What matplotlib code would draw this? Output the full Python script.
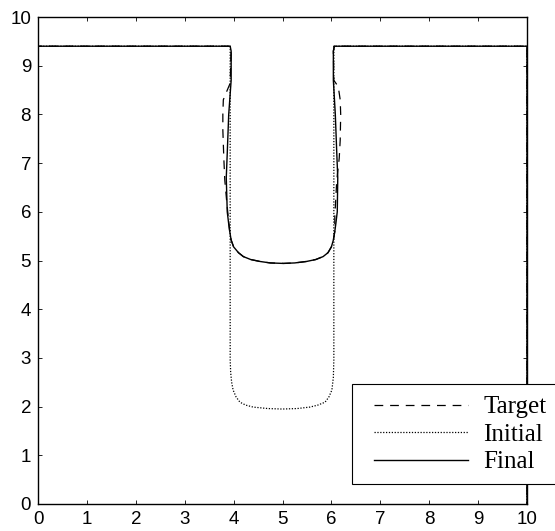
import matplotlib
matplotlib.use('Agg')
import matplotlib.pyplot as plt
from matplotlib.patches import Rectangle

# Curve data
bottom_x = [3.92, 3.95, 4.00, 4.10, 4.20, 4.35, 4.54, 4.75, 5.02, 5.25, 5.49, 5.68, 5.83, 5.93, 6.00, 6.04, 6.07]
bottom_y = [5.60, 5.42, 5.28, 5.16, 5.08, 5.02, 4.98, 4.95, 4.94, 4.95, 4.98, 5.02, 5.08, 5.16, 5.28, 5.42, 5.60]

target_x = ([0, 0, 3.93, 3.95, 3.93, 3.85, 3.79, 3.78, 3.78, 3.80, 3.82, 3.86, 3.89]
            + bottom_x
            + [6.07, 6.11, 6.16, 6.18, 6.19, 6.18, 6.14, 6.05, 6.04, 6.06, 10, 10])
target_y = ([0, 9.4, 9.4, 9.3, 8.64, 8.45, 8.3, 8.0, 7.68, 7.1, 6.65, 6.2, 5.9]
            + bottom_y
            + [5.9, 6.65, 7.1, 7.47, 8.0, 8.3, 8.57, 8.7, 9.3, 9.4, 9.4, 0])

initial_x = [0, 0, 3.93, 3.93, 3.94, 3.96, 3.99, 4.05, 4.13, 4.25, 4.40, 4.70, 4.99,
             5.30, 5.56, 5.72, 5.87, 5.95, 6.01, 6.04, 6.05, 6.05, 10, 10]
initial_y = [0, 9.4, 9.4, 2.96, 2.70, 2.50, 2.34, 2.20, 2.09, 2.03, 1.99, 1.96, 1.95,
             1.96, 1.99, 2.03, 2.09, 2.20, 2.34, 2.60, 2.96, 9.4, 9.4, 0]

final_x = ([0, 0, 3.93, 3.95, 3.95, 3.90, 3.87, 3.85, 3.87, 3.90]
           + bottom_x
           + [6.09, 6.12, 6.13, 6.11, 6.08, 6.04, 6.04, 6.06, 10, 10])
final_y = ([0, 9.4, 9.4, 9.3, 8.7, 8.0, 7.2, 6.7, 6.0, 5.75]
           + bottom_y
           + [5.75, 6.0, 6.7, 7.2, 8.0, 8.7, 9.3, 9.4, 9.4, 0])

ticks = list(range(0, 11))

W, H = 555, 531
fig = plt.figure(figsize=(W/100, H/100), dpi=100)
ax = fig.add_axes([38/W, 1 - 504/H, (527 - 38)/W, (504 - 17)/H])

ax.plot(target_x, target_y, color='black', linestyle=(0, (7, 5.5)), linewidth=0.9, label='Target')
ax.plot(initial_x, initial_y, color='black', linestyle=(0, (1, 1.3)), linewidth=0.9, label='Initial')
ax.plot(final_x, final_y, color='black', linestyle='-', linewidth=1.0, label='Final')

ax.set_xlim(0, 10)
ax.set_ylim(0, 10)
ax.set_xticks(ticks)
ax.set_yticks(ticks)
ax.tick_params(direction='in', top=True, right=True, length=3, width=0.6,
               labelsize=13.5, pad=5)
for lab in ax.get_xticklabels() + ax.get_yticklabels():
    lab.set_family('Liberation Sans')
for s in ax.spines.values():
    s.set_linewidth(1.0)

# legend box runs past the right edge of the figure, as in the reference
box = Rectangle((352/W, 1 - 484/H), 0.5, (484 - 384)/H, transform=fig.transFigure,
                facecolor='white', edgecolor='black', linewidth=0.8, zorder=1)
fig.patches.append(box)

handles, labels = ax.get_legend_handles_labels()
leg = fig.legend(handles, labels, loc='upper left',
                 bbox_to_anchor=(374/W, 1 - 396/H), bbox_transform=fig.transFigure,
                 borderaxespad=0, borderpad=0, frameon=False,
                 handlelength=3.76, handletextpad=0.6, labelspacing=0.2,
                 prop={'family': 'Liberation Serif', 'size': 18})

fig.savefig('out.png', dpi=100)
